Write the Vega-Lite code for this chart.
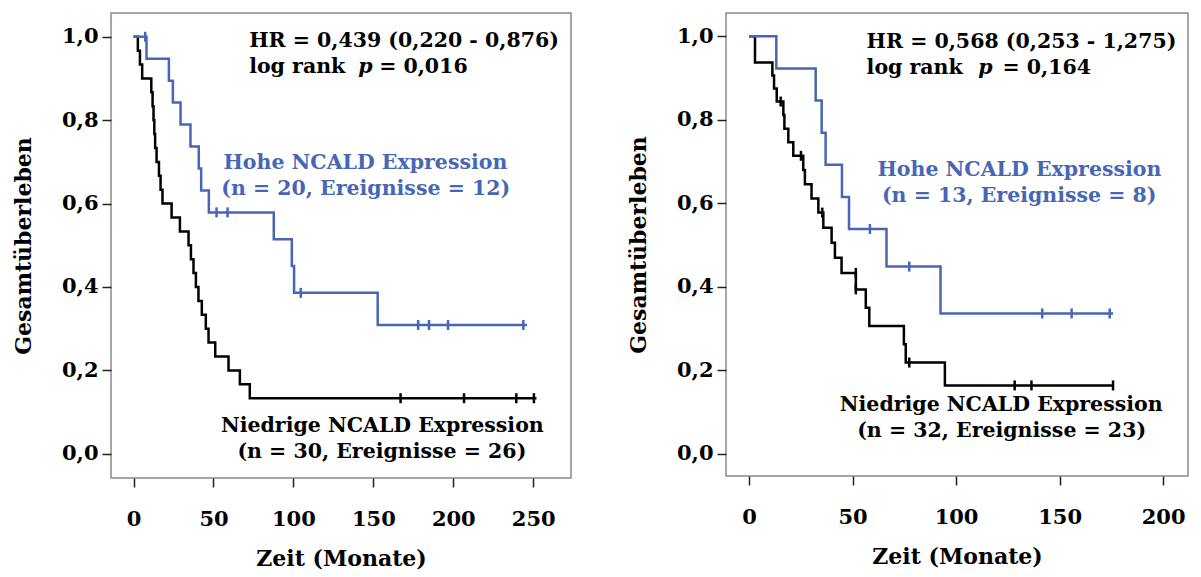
{
  "$schema": "https://vega.github.io/schema/vega-lite/v6.json",
  "background": "white",
  "padding": {"left": 11, "top": 12, "right": 0, "bottom": 0},
  "config": {
    "view": {"stroke": "#8a8a8a", "strokeWidth": 1.5},
    "font": "DejaVu Serif",
    "axis": {
      "labelFont": "DejaVu Serif", "labelFontWeight": "bold", "labelFontSize": 21, "labelColor": "#000",
      "titleFont": "DejaVu Serif", "titleFontWeight": "bold", "titleFontSize": 22, "titleColor": "#000",
      "tickColor": "#222", "tickSize": 9, "tickWidth": 1.5, "domain": false, "grid": false
    },
    "axisX": {"labelPadding": 21, "titlePadding": 19},
    "axisY": {"labelPadding": 4, "titlePadding": 26},
    "concat": {"spacing": 54}
  },
  "datasets": {
    "kurven": [
      {"p":"A","g":"niedrig","t":0,"s":1},
      {"p":"A","g":"niedrig","t":2.7,"s":0.9667},
      {"p":"A","g":"niedrig","t":4.0,"s":0.9333},
      {"p":"A","g":"niedrig","t":5.4,"s":0.9},
      {"p":"A","g":"niedrig","t":11.1,"s":0.8667},
      {"p":"A","g":"niedrig","t":11.9,"s":0.8333},
      {"p":"A","g":"niedrig","t":12.5,"s":0.8},
      {"p":"A","g":"niedrig","t":13.0,"s":0.7667},
      {"p":"A","g":"niedrig","t":13.5,"s":0.7333},
      {"p":"A","g":"niedrig","t":14.4,"s":0.7},
      {"p":"A","g":"niedrig","t":15.9,"s":0.6667},
      {"p":"A","g":"niedrig","t":16.9,"s":0.6333},
      {"p":"A","g":"niedrig","t":18.1,"s":0.6},
      {"p":"A","g":"niedrig","t":23.8,"s":0.5667},
      {"p":"A","g":"niedrig","t":29.0,"s":0.5333},
      {"p":"A","g":"niedrig","t":34.4,"s":0.5},
      {"p":"A","g":"niedrig","t":35.9,"s":0.4667},
      {"p":"A","g":"niedrig","t":37.5,"s":0.4333},
      {"p":"A","g":"niedrig","t":39.0,"s":0.4},
      {"p":"A","g":"niedrig","t":40.6,"s":0.3667},
      {"p":"A","g":"niedrig","t":42.7,"s":0.3333},
      {"p":"A","g":"niedrig","t":45.2,"s":0.3},
      {"p":"A","g":"niedrig","t":46.9,"s":0.2667},
      {"p":"A","g":"niedrig","t":51.1,"s":0.2333},
      {"p":"A","g":"niedrig","t":59.4,"s":0.2},
      {"p":"A","g":"niedrig","t":66.5,"s":0.1667},
      {"p":"A","g":"niedrig","t":72.7,"s":0.1333},
      {"p":"A","g":"niedrig","t":252,"s":0.1333},
      {"p":"A","g":"hoch","t":0,"s":1},
      {"p":"A","g":"hoch","t":8.1,"s":0.9474},
      {"p":"A","g":"hoch","t":22.1,"s":0.8947},
      {"p":"A","g":"hoch","t":24.6,"s":0.8421},
      {"p":"A","g":"hoch","t":29.4,"s":0.7895},
      {"p":"A","g":"hoch","t":35.6,"s":0.7368},
      {"p":"A","g":"hoch","t":40.8,"s":0.6842},
      {"p":"A","g":"hoch","t":42.3,"s":0.6316},
      {"p":"A","g":"hoch","t":47.1,"s":0.5789},
      {"p":"A","g":"hoch","t":87.7,"s":0.5146},
      {"p":"A","g":"hoch","t":99.0,"s":0.4503},
      {"p":"A","g":"hoch","t":100.4,"s":0.386},
      {"p":"A","g":"hoch","t":152.7,"s":0.3088},
      {"p":"A","g":"hoch","t":246,"s":0.3088},
      {"p":"B","g":"niedrig","t":0,"s":1},
      {"p":"B","g":"niedrig","t":2.9,"s":0.9375},
      {"p":"B","g":"niedrig","t":11.3,"s":0.9063},
      {"p":"B","g":"niedrig","t":12.1,"s":0.875},
      {"p":"B","g":"niedrig","t":13.4,"s":0.8438},
      {"p":"B","g":"niedrig","t":16.6,"s":0.8113},
      {"p":"B","g":"niedrig","t":17.1,"s":0.7788},
      {"p":"B","g":"niedrig","t":19.0,"s":0.7464},
      {"p":"B","g":"niedrig","t":21.4,"s":0.7139},
      {"p":"B","g":"niedrig","t":26.2,"s":0.6799},
      {"p":"B","g":"niedrig","t":27.0,"s":0.6459},
      {"p":"B","g":"niedrig","t":30.2,"s":0.6119},
      {"p":"B","g":"niedrig","t":33.5,"s":0.5779},
      {"p":"B","g":"niedrig","t":35.9,"s":0.5418},
      {"p":"B","g":"niedrig","t":39.9,"s":0.5057},
      {"p":"B","g":"niedrig","t":41.5,"s":0.4696},
      {"p":"B","g":"niedrig","t":44.7,"s":0.4335},
      {"p":"B","g":"niedrig","t":51.6,"s":0.3941},
      {"p":"B","g":"niedrig","t":56.4,"s":0.3503},
      {"p":"B","g":"niedrig","t":58.1,"s":0.3065},
      {"p":"B","g":"niedrig","t":74.8,"s":0.2627},
      {"p":"B","g":"niedrig","t":75.7,"s":0.2189},
      {"p":"B","g":"niedrig","t":94.6,"s":0.1642},
      {"p":"B","g":"niedrig","t":176,"s":0.1642},
      {"p":"B","g":"hoch","t":0,"s":1},
      {"p":"B","g":"hoch","t":13.2,"s":0.9231},
      {"p":"B","g":"hoch","t":32.2,"s":0.8462},
      {"p":"B","g":"hoch","t":35.1,"s":0.7692},
      {"p":"B","g":"hoch","t":37.0,"s":0.6923},
      {"p":"B","g":"hoch","t":44.9,"s":0.6154},
      {"p":"B","g":"hoch","t":48.3,"s":0.5385},
      {"p":"B","g":"hoch","t":66.4,"s":0.4487},
      {"p":"B","g":"hoch","t":92.5,"s":0.3365},
      {"p":"B","g":"hoch","t":175.8,"s":0.3365}
    ],
    "zensiert": [
      {"p":"A","g":"hoch","t":7.3,"s":1.0},
      {"p":"A","g":"hoch","t":51.9,"s":0.5789},
      {"p":"A","g":"hoch","t":58.8,"s":0.5789},
      {"p":"A","g":"hoch","t":104.6,"s":0.386},
      {"p":"A","g":"hoch","t":178,"s":0.3088},
      {"p":"A","g":"hoch","t":184.8,"s":0.3088},
      {"p":"A","g":"hoch","t":196.7,"s":0.3088},
      {"p":"A","g":"hoch","t":243.8,"s":0.3088},
      {"p":"A","g":"niedrig","t":167,"s":0.1333},
      {"p":"A","g":"niedrig","t":206.7,"s":0.1333},
      {"p":"A","g":"niedrig","t":239.4,"s":0.1333},
      {"p":"A","g":"niedrig","t":250.4,"s":0.1333},
      {"p":"B","g":"hoch","t":58.4,"s":0.5385},
      {"p":"B","g":"hoch","t":77.4,"s":0.4487},
      {"p":"B","g":"hoch","t":141.6,"s":0.3365},
      {"p":"B","g":"hoch","t":155.8,"s":0.3365},
      {"p":"B","g":"hoch","t":174.2,"s":0.3365},
      {"p":"B","g":"niedrig","t":15.3,"s":0.8438},
      {"p":"B","g":"niedrig","t":25.1,"s":0.7139},
      {"p":"B","g":"niedrig","t":35.4,"s":0.5779},
      {"p":"B","g":"niedrig","t":51.6,"s":0.4335},
      {"p":"B","g":"niedrig","t":51.6,"s":0.3941},
      {"p":"B","g":"niedrig","t":77.4,"s":0.2189},
      {"p":"B","g":"niedrig","t":128.3,"s":0.1642},
      {"p":"B","g":"niedrig","t":136.4,"s":0.1642},
      {"p":"B","g":"niedrig","t":175.8,"s":0.1642}
    ],
    "texte": [
      {"p":"A","art":"info","t":72.3,"s":0.976,"label":"HR = 0,439 (0,220 - 0,876)"},
      {"p":"A","art":"info","t":72.3,"s":0.9137,"label":"log rank"},
      {"p":"A","art":"pwert","t":140.5,"s":0.9137,"label":"p"},
      {"p":"A","art":"info","t":153.6,"s":0.9137,"label":"= 0,016"},
      {"p":"A","art":"hoch","t":145,"s":0.682,"label":"Hohe NCALD Expression"},
      {"p":"A","art":"hoch","t":145.2,"s":0.62,"label":"(n = 20, Ereignisse = 12)"},
      {"p":"A","art":"niedrig","t":155.6,"s":0.0528,"label":"Niedrige NCALD Expression"},
      {"p":"A","art":"niedrig","t":155.3,"s":-0.0096,"label":"(n = 30, Ereignisse = 26)"},
      {"p":"B","art":"info","t":56.8,"s":0.972,"label":"HR = 0,568 (0,253 - 1,275)"},
      {"p":"B","art":"info","t":56.8,"s":0.91,"label":"log rank"},
      {"p":"B","art":"pwert","t":110.7,"s":0.91,"label":"p"},
      {"p":"B","art":"info","t":122.4,"s":0.91,"label":"= 0,164"},
      {"p":"B","art":"hoch","t":130.6,"s":0.665,"label":"Hohe NCALD Expression"},
      {"p":"B","art":"hoch","t":130.5,"s":0.603,"label":"(n = 13, Ereignisse = 8)"},
      {"p":"B","art":"niedrig","t":121.8,"s":0.102,"label":"Niedrige NCALD Expression"},
      {"p":"B","art":"niedrig","t":122,"s":0.04,"label":"(n = 32, Ereignisse = 23)"}
    ]
  },
  "hconcat": [
    {
      "width": 460, "height": 465,
      "encoding": {
        "x": {"field": "t", "type": "quantitative", "scale": {"domain": [-14.1, 273.6], "nice": false, "zero": false}, "axis": {"values": [0, 50, 100, 150, 200, 250], "title": "Zeit (Monate)"}},
        "y": {"field": "s", "type": "quantitative", "scale": {"domain": [-0.058, 1.057], "nice": false, "zero": false}, "axis": {"values": [0, 0.2, 0.4, 0.6, 0.8, 1], "labelExpr": "replace(format(datum.value, '.1f'), '.', ',')", "title": "Gesamtüberleben"}}
      },
      "layer": [
        {"data": {"name": "kurven"}, "transform": [{"filter": "datum.p == 'A' && datum.g == 'niedrig'"}], "mark": {"type": "line", "interpolate": "step-after", "color": "#000000", "strokeWidth": 2.5}},
        {"data": {"name": "kurven"}, "transform": [{"filter": "datum.p == 'A' && datum.g == 'hoch'"}], "mark": {"type": "line", "interpolate": "step-after", "color": "#4766b5", "strokeWidth": 2.5}},
        {"data": {"name": "zensiert"}, "transform": [{"filter": "datum.p == 'A' && datum.g == 'niedrig'"}], "mark": {"type": "point", "shape": "M0,-1L0,1", "size": 100, "filled": false, "stroke": "#000000", "strokeWidth": 2.5, "opacity": 1}},
        {"data": {"name": "zensiert"}, "transform": [{"filter": "datum.p == 'A' && datum.g == 'hoch'"}], "mark": {"type": "point", "shape": "M0,-1L0,1", "size": 100, "filled": false, "stroke": "#4766b5", "strokeWidth": 2.5, "opacity": 1}},
        {"data": {"name": "texte"}, "transform": [{"filter": "datum.p == 'A' && datum.art == 'info'"}], "mark": {"type": "text", "align": "left", "baseline": "alphabetic", "font": "DejaVu Serif", "fontWeight": "bold", "fontSize": 20.5, "color": "#000000"}, "encoding": {"text": {"field": "label"}}},
        {"data": {"name": "texte"}, "transform": [{"filter": "datum.p == 'A' && datum.art == 'pwert'"}], "mark": {"type": "text", "align": "left", "baseline": "alphabetic", "font": "DejaVu Serif", "fontWeight": "bold", "fontStyle": "italic", "fontSize": 20.5, "color": "#000000"}, "encoding": {"text": {"field": "label"}}},
        {"data": {"name": "texte"}, "transform": [{"filter": "datum.p == 'A' && datum.art == 'hoch'"}], "mark": {"type": "text", "align": "center", "baseline": "alphabetic", "font": "DejaVu Serif", "fontWeight": "bold", "fontSize": 20.5, "color": "#4766b5"}, "encoding": {"text": {"field": "label"}}},
        {"data": {"name": "texte"}, "transform": [{"filter": "datum.p == 'A' && datum.art == 'niedrig'"}], "mark": {"type": "text", "align": "center", "baseline": "alphabetic", "font": "DejaVu Serif", "fontWeight": "bold", "fontSize": 20.5, "color": "#000000"}, "encoding": {"text": {"field": "label"}}}
      ]
    },
    {
      "width": 462, "height": 463,
      "encoding": {
        "x": {"field": "t", "type": "quantitative", "scale": {"domain": [-11.1, 212], "nice": false, "zero": false}, "axis": {"values": [0, 50, 100, 150, 200], "title": "Zeit (Monate)"}},
        "y": {"field": "s", "type": "quantitative", "scale": {"domain": [-0.0527, 1.0558], "nice": false, "zero": false}, "axis": {"values": [0, 0.2, 0.4, 0.6, 0.8, 1], "labelExpr": "replace(format(datum.value, '.1f'), '.', ',')", "title": "Gesamtüberleben"}}
      },
      "layer": [
        {"data": {"name": "kurven"}, "transform": [{"filter": "datum.p == 'B' && datum.g == 'niedrig'"}], "mark": {"type": "line", "interpolate": "step-after", "color": "#000000", "strokeWidth": 2.5}},
        {"data": {"name": "kurven"}, "transform": [{"filter": "datum.p == 'B' && datum.g == 'hoch'"}], "mark": {"type": "line", "interpolate": "step-after", "color": "#4766b5", "strokeWidth": 2.5}},
        {"data": {"name": "zensiert"}, "transform": [{"filter": "datum.p == 'B' && datum.g == 'niedrig'"}], "mark": {"type": "point", "shape": "M0,-1L0,1", "size": 100, "filled": false, "stroke": "#000000", "strokeWidth": 2.5, "opacity": 1}},
        {"data": {"name": "zensiert"}, "transform": [{"filter": "datum.p == 'B' && datum.g == 'hoch'"}], "mark": {"type": "point", "shape": "M0,-1L0,1", "size": 100, "filled": false, "stroke": "#4766b5", "strokeWidth": 2.5, "opacity": 1}},
        {"data": {"name": "texte"}, "transform": [{"filter": "datum.p == 'B' && datum.art == 'info'"}], "mark": {"type": "text", "align": "left", "baseline": "alphabetic", "font": "DejaVu Serif", "fontWeight": "bold", "fontSize": 20.5, "color": "#000000"}, "encoding": {"text": {"field": "label"}}},
        {"data": {"name": "texte"}, "transform": [{"filter": "datum.p == 'B' && datum.art == 'pwert'"}], "mark": {"type": "text", "align": "left", "baseline": "alphabetic", "font": "DejaVu Serif", "fontWeight": "bold", "fontStyle": "italic", "fontSize": 20.5, "color": "#000000"}, "encoding": {"text": {"field": "label"}}},
        {"data": {"name": "texte"}, "transform": [{"filter": "datum.p == 'B' && datum.art == 'hoch'"}], "mark": {"type": "text", "align": "center", "baseline": "alphabetic", "font": "DejaVu Serif", "fontWeight": "bold", "fontSize": 20.5, "color": "#4766b5"}, "encoding": {"text": {"field": "label"}}},
        {"data": {"name": "texte"}, "transform": [{"filter": "datum.p == 'B' && datum.art == 'niedrig'"}], "mark": {"type": "text", "align": "center", "baseline": "alphabetic", "font": "DejaVu Serif", "fontWeight": "bold", "fontSize": 20.5, "color": "#000000"}, "encoding": {"text": {"field": "label"}}}
      ]
    }
  ]
}
